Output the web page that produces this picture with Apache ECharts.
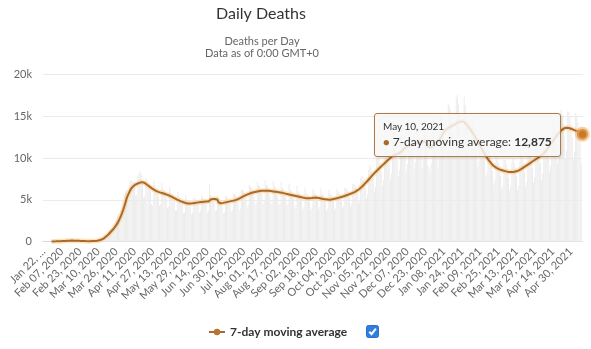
<!DOCTYPE html>
<html>
<head>
<meta charset="utf-8">
<script src="https://cdn.jsdelivr.net/npm/echarts@6/dist/echarts.min.js"></script>
<style>
  html, body { margin: 0; padding: 0; background: #fff; }
  #chart { width: 591px; height: 349px; }
</style>
</head>
<body>
<div id="chart"></div>
<script>
// First day of the series; one value per day after it.
const firstDay = Date.UTC(2020, 0, 22);
const monthNames = ['Jan','Feb','Mar','Apr','May','Jun','Jul','Aug','Sep','Oct','Nov','Dec'];

// Deaths reported each day (one row per week, Wednesday to Tuesday).
const dailyDeaths = [
  17, 8, 16, 15, 24, 26, 26,
  38, 43, 46, 45, 57, 64, 66,
  73, 73, 86, 89, 97, 108, 97,
  254, 121, 143, 142, 106, 98, 139,
  115, 125, 111, 98, 150, 71, 64,
  37, 58, 64, 70, 55, 72, 85,
  90, 84, 110, 105, 100, 190, 230,
  270, 330, 400, 430, 620, 780, 900,
  950, 1120, 1300, 1400, 1500, 1700, 2200,
  2450, 2700, 3100, 3300, 3100, 3700, 4300,
  4900, 5700, 6000, 6200, 4900, 5000, 7300,
  7400, 7100, 7200, 6600, 5500, 5600, 7900,
  8200, 8400, 8100, 6900, 5300, 5400, 7600,
  7300, 7100, 6700, 6100, 4500, 4300, 7300,
  6800, 6400, 6100, 5400, 4300, 4500, 7100,
  6300, 6200, 5900, 5200, 4100, 4200, 6600,
  6000, 5700, 5400, 4800, 3700, 3800, 6000,
  5400, 5200, 4900, 4400, 3400, 3500, 5600,
  5100, 5000, 4700, 4200, 3300, 3500, 5300,
  5200, 5100, 4900, 4400, 3500, 3700, 5500,
  5300, 5200, 5000, 4500, 3500, 3700, 6900,
  5600, 5200, 5100, 4600, 3700, 3800, 5500,
  5200, 5100, 4800, 4300, 3400, 3500, 5500,
  5400, 5300, 5000, 4500, 3600, 3800, 5800,
  5700, 5600, 5300, 4700, 3800, 4000, 6200,
  6200, 6100, 5800, 5200, 4100, 4400, 6800,
  6600, 6500, 6200, 5500, 4400, 4700, 7200,
  6800, 6700, 6300, 5700, 4500, 4800, 7400,
  6800, 6700, 6300, 5600, 4500, 4800, 7300,
  6700, 6500, 6200, 5500, 4400, 4700, 7200,
  6500, 6300, 6000, 5400, 4300, 4600, 7000,
  6200, 6100, 5800, 5100, 4100, 4400, 6700,
  6000, 5800, 5500, 4900, 3900, 4200, 6500,
  5800, 5700, 5400, 4800, 3800, 4100, 6300,
  5900, 5800, 5500, 4900, 3900, 4200, 6400,
  5700, 5600, 5300, 4700, 3700, 4000, 6200,
  5700, 5600, 5300, 4800, 3800, 4100, 6300,
  6000, 5900, 5600, 5000, 4000, 4300, 6500,
  6400, 6300, 5900, 5300, 4200, 4600, 6900,
  6900, 6800, 6400, 5700, 4600, 5000, 7600,
  7900, 7700, 7300, 6500, 5200, 5700, 8700,
  9100, 8900, 8400, 7500, 6000, 6600, 10000,
  10200, 10000, 9400, 8400, 6700, 7400, 11100,
  11200, 11000, 10400, 9200, 7400, 8100, 12200,
  11900, 10800, 10900, 9800, 7800, 8600, 12800,
  12700, 12400, 11800, 10500, 8300, 9300, 13700,
  13300, 12900, 12200, 10900, 8700, 9600, 14300,
  13600, 13200, 12500, 11100, 8900, 9900, 14600,
  13500, 11800, 9200, 8900, 8200, 9400, 14800,
  14600, 12800, 10600, 10500, 8700, 10200, 15100,
  15200, 14900, 14100, 12300, 9800, 10900, 16500,
  16200, 15700, 14800, 12900, 10300, 11400, 17300,
  17600, 16400, 15300, 13400, 10600, 11800, 17400,
  16300, 15100, 14300, 12700, 10100, 10800, 15300,
  14600, 13600, 12900, 11300, 9000, 9700, 13600,
  12500, 11700, 11000, 9700, 7800, 8300, 11900,
  10900, 10200, 9600, 8500, 6800, 7300, 10400,
  10100, 9500, 9000, 7900, 6300, 6800, 9800,
  9800, 9300, 8800, 7700, 6100, 6600, 9500,
  9900, 9400, 8900, 7800, 6200, 6700, 9600,
  10500, 9900, 9400, 8300, 6600, 7200, 10200,
  11200, 10600, 10100, 8900, 7100, 7700, 10900,
  12000, 11300, 10500, 9400, 7400, 8200, 11700,
  13200, 12500, 11800, 10500, 8300, 9100, 13000,
  14700, 14000, 13200, 11700, 9300, 10200, 14500,
  15800, 15000, 14200, 12600, 10000, 10900, 15600,
  15600, 14900, 14100, 12500, 9900, 10800, 15400,
  15100, 14300, 13500, 11900, 9500, 10400
];

// 7-day moving average of daily deaths (same weekly rows).
const movingAverage = [
  null, null, null, null, null, null, null,
  25, 30, 33, 37, 41, 46, 52,
  58, 64, 70, 77, 84, 90, 96,
  118, 121, 126, 131, 136, 131, 124,
  112, 114, 108, 106, 102, 97, 96,
  88, 79, 72, 67, 62, 62, 68,
  72, 77, 82, 86, 93, 112, 133,
  170, 210, 260, 320, 400, 500, 620,
  720, 860, 1010, 1160, 1310, 1460, 1620,
  1800, 2000, 2220, 2470, 2760, 3070, 3420,
  3800, 4220, 4680, 5150, 5520, 5820, 6100,
  6350, 6520, 6650, 6760, 6850, 6920, 6980,
  7030, 7080, 7110, 7130, 7100, 7030, 6930,
  6820, 6720, 6620, 6520, 6420, 6320, 6230,
  6140, 6080, 6020, 5970, 5920, 5880, 5840,
  5800, 5760, 5710, 5660, 5610, 5560, 5500,
  5430, 5360, 5290, 5220, 5150, 5080, 5010,
  4950, 4890, 4830, 4770, 4720, 4670, 4630,
  4600, 4580, 4570, 4570, 4580, 4600, 4620,
  4640, 4660, 4680, 4700, 4720, 4740, 4760,
  4770, 4780, 4790, 4800, 4810, 4800, 4900,
  5050, 5100, 5120, 5130, 5120, 5100, 5020,
  4700, 4620, 4600, 4620, 4650, 4680, 4710,
  4740, 4770, 4800, 4830, 4860, 4890, 4920,
  4950, 4990, 5040, 5100, 5170, 5240, 5310,
  5380, 5450, 5520, 5580, 5640, 5700, 5750,
  5800, 5850, 5890, 5930, 5960, 5990, 6020,
  6040, 6060, 6080, 6090, 6100, 6110, 6110,
  6110, 6100, 6090, 6080, 6060, 6040, 6020,
  6000, 5980, 5960, 5940, 5920, 5900, 5880,
  5850, 5820, 5790, 5760, 5720, 5680, 5650,
  5620, 5590, 5560, 5530, 5500, 5470, 5440,
  5410, 5380, 5350, 5320, 5290, 5260, 5240,
  5220, 5210, 5200, 5200, 5210, 5230, 5250,
  5270, 5290, 5280, 5260, 5230, 5200, 5170,
  5140, 5110, 5090, 5070, 5050, 5040, 5030,
  5030, 5050, 5080, 5110, 5140, 5170, 5200,
  5240, 5280, 5320, 5360, 5400, 5440, 5490,
  5540, 5590, 5640, 5690, 5740, 5790, 5840,
  5900, 5970, 6050, 6140, 6240, 6350, 6470,
  6590, 6720, 6860, 7000, 7150, 7300, 7450,
  7600, 7760, 7910, 8060, 8210, 8350, 8490,
  8620, 8750, 8880, 9010, 9140, 9270, 9400,
  9530, 9660, 9790, 9910, 10030, 10140, 10240,
  10330, 10410, 10460, 10500, 10550, 10620, 10700,
  10800, 10980, 11120, 11240, 11330, 11400, 11460,
  11520, 11580, 11640, 11690, 11730, 11760, 11800,
  11840, 11880, 11920, 11960, 12000, 12010, 12000,
  11960, 11700, 11420, 11300, 11250, 11280, 11400,
  11600, 11720, 11800, 11900, 12000, 12150, 12350,
  12600, 12850, 13100, 13280, 13420, 13530, 13620,
  13700, 13780, 13850, 13920, 13990, 14060, 14150,
  14260, 14340, 14380, 14400, 14410, 14390, 14330,
  14200, 14050, 13880, 13700, 13520, 13330, 13130,
  12920, 12700, 12470, 12230, 11990, 11750, 11500,
  11250, 11000, 10760, 10520, 10290, 10070, 9860,
  9670, 9500, 9340, 9200, 9070, 8960, 8870,
  8790, 8720, 8660, 8610, 8560, 8520, 8480,
  8450, 8420, 8390, 8370, 8350, 8340, 8340,
  8350, 8370, 8400, 8440, 8490, 8550, 8620,
  8700, 8790, 8880, 8970, 9060, 9150, 9240,
  9330, 9420, 9510, 9600, 9690, 9780, 9870,
  9960, 10050, 10150, 10250, 10360, 10470, 10590,
  10720, 10900, 11090, 11280, 11480, 11670, 11860,
  12050, 12250, 12450, 12640, 12820, 12990, 13140,
  13280, 13400, 13500, 13580, 13630, 13650, 13640,
  13610, 13570, 13520, 13470, 13420, 13370, 13310,
  13250, 13180, 13110, 13040, 12960, 12875
];

// Value axis ticks
const yTicks = [0, 5000, 10000, 15000, 20000];

// "Mon DD, YYYY" label for each day
const dates = dailyDeaths.map((_, i) => {
  const d = new Date(firstDay + i * 86400000);
  return monthNames[d.getUTCMonth()] + ' ' + String(d.getUTCDate()).padStart(2, '0') + ', ' + d.getUTCFullYear();
});

const MA_NAME = '7-day moving average';
const LINE = '#a8692c';
const FONT = 'Lato, "Open Sans", sans-serif';
const last = movingAverage.length - 1;

const chart = echarts.init(document.getElementById('chart'), null, { renderer: 'canvas' });

chart.setOption({
  animation: false,
  textStyle: { fontFamily: FONT },
  grid: { left: 43, right: 8, top: 74.7, bottom: 107.3, containLabel: false },
  legend: {
    data: [MA_NAME],
    left: 203, top: 321,
    itemWidth: 16, itemHeight: 8,
    itemGap: 6,
    textStyle: { fontFamily: FONT, fontSize: 12, fontWeight: 'bold', color: '#333' },
    selectedMode: false
  },
  tooltip: {
    trigger: 'axis',
    axisPointer: { type: 'none' },
    alwaysShowContent: true,
    transitionDuration: 0,
    position: [374, 113],
    backgroundColor: 'rgba(247,247,247,0.85)',
    borderColor: '#b07a44',
    borderWidth: 1,
    borderRadius: 3,
    padding: [5, 8, 6, 8],
    extraCssText: 'box-shadow:1px 1px 3px rgba(0,0,0,0.15);',
    formatter: params => {
      const p = params.find(q => q.seriesName === MA_NAME);
      return '<div style="font-family:Lato,sans-serif;font-size:10px;color:#333;line-height:14px">' + p.name + '</div>' +
        '<div style="font-family:Lato,sans-serif;font-size:12px;color:#333;line-height:17px">' +
        '<span style="color:' + LINE + ';font-size:11px">\u25CF</span> ' + MA_NAME + ': <b>' +
        Number(p.value).toLocaleString('en-US') + '</b></div>';
    }
  },
  xAxis: {
    type: 'category',
    data: dates,
    boundaryGap: true,
    axisLine: { lineStyle: { color: '#ccd6eb' } },
    axisTick: { show: false },
    axisLabel: {
      interval: 15,
      rotate: 45,
      margin: 8,
      fontFamily: FONT,
      fontSize: 11,
      color: '#666',
      formatter: (v, i) => (i === 0 ? v.slice(0, 8) + '\u2026' : v)
    }
  },
  yAxis: {
    type: 'value',
    min: yTicks[0],
    max: yTicks[yTicks.length - 1],
    interval: yTicks[1] - yTicks[0],
    axisLine: { show: false },
    axisTick: { show: false },
    splitLine: { lineStyle: { color: '#ebebeb' } },
    axisLabel: {
      margin: 11,
      fontFamily: FONT,
      fontSize: 11,
      color: '#666',
      formatter: v => (v === 0 ? '0' : v / 1000 + 'k')
    }
  },
  series: [
    {
      name: 'Daily Deaths',
      type: 'bar',
      data: dailyDeaths,
      barWidth: '55%',
      itemStyle: { color: '#ececec' },
      silent: true,
      z: 1
    },
    {
      name: 'glow',
      type: 'line',
      data: movingAverage,
      showSymbol: false,
      symbol: 'none',
      silent: true,
      lineStyle: { width: 5, color: 'rgba(240,178,105,0.45)' },
      z: 2
    },
    {
      name: MA_NAME,
      type: 'line',
      data: movingAverage,
      showSymbol: false,
      symbol: 'circle',
      symbolSize: 7,
      itemStyle: { color: '#b8752f' },
      lineStyle: { width: 2, color: LINE },
      emphasis: { disabled: true },
      z: 3,
      markPoint: {
        silent: true,
        symbol: 'circle',
        symbolSize: 11,
        label: { show: false },
        itemStyle: { color: '#c47a2e', borderColor: 'rgba(240,170,90,0.55)', borderWidth: 4 },
        data: [{ coord: [dates[last], movingAverage[last]] }]
      }
    }
  ],
  graphic: [
    {
      type: 'text', x: 261, y: 14, silent: true,
      style: { text: 'Daily Deaths', fontFamily: FONT, fontSize: 16, fill: '#333', align: 'center', verticalAlign: 'middle' }
    },
    {
      type: 'text', x: 262, y: 41, silent: true,
      style: { text: 'Deaths per Day', fontFamily: FONT, fontSize: 11, fill: '#666', align: 'center', verticalAlign: 'middle' }
    },
    {
      type: 'text', x: 262, y: 53.5, silent: true,
      style: { text: 'Data as of 0:00 GMT+0', fontFamily: FONT, fontSize: 11, fill: '#666', align: 'center', verticalAlign: 'middle' }
    },
    {
      type: 'group',
      left: 366, top: 325,
      children: [
        { type: 'rect', shape: { x: 0, y: 0, width: 12, height: 12, r: 2 }, style: { fill: '#2f7ee0', stroke: '#2a6fc9', lineWidth: 1 } },
        { type: 'polyline', shape: { points: [[2.8, 6.2], [5, 8.6], [9.4, 3.2]] }, style: { stroke: '#fff', lineWidth: 2, fill: null } }
      ]
    }
  ]
});

chart.dispatchAction({ type: 'showTip', seriesIndex: 2, dataIndex: last });
</script>
</body>
</html>
